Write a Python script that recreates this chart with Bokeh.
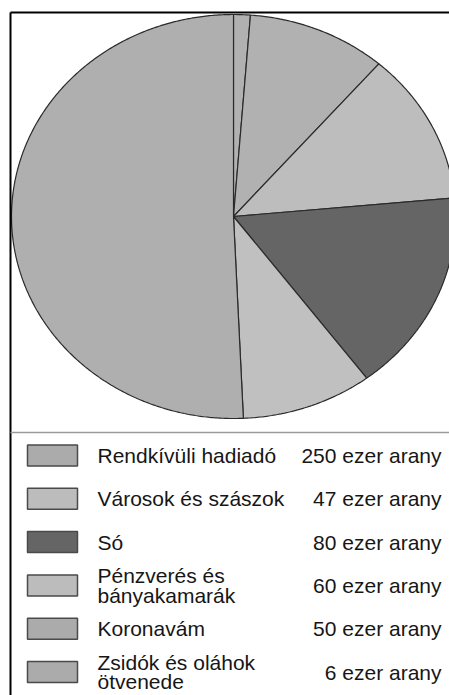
import numpy as np
from bokeh.plotting import figure
from bokeh.models import Range1d, ColumnDataSource
from bokeh.core.properties import value
from bokeh.embed import file_html
from bokeh.resources import INLINE

# ---- data (legend order) ----
categories = ["Rendkívüli hadiadó", "Városok és szászok", "Só",
              "Pénzverés és\nbányakamarák", "Koronavám", "Zsidók és oláhok\nötvenede"]
values = [250, 47, 80, 60, 50, 6]
unit = "ezer arany"
colors = ["#afafaf", "#c0c0c0", "#656565", "#bdbdbd", "#b1b1b1", "#b1b1b1"]
swatch_colors = ["#ababab", "#bcbcbc", "#656565", "#bcbcbc", "#ababab", "#ababab"]

W, H = 449, 695
p = figure(width=W, height=H, output_backend="svg", toolbar_location=None,
           x_range=Range1d(0, W), y_range=Range1d(H, 0),
           min_border=0, background_fill_color="white", border_fill_color="white")
p.axis.visible = False
p.grid.visible = False
p.outline_line_color = None

# ---- pie (elliptical), clockwise from top, in reverse legend order ----
cx, cy, rx, ry = 233, 216, 222, 202
order = list(range(len(values)))[::-1]
total = float(sum(values))
xs, ys, fills = [], [], []
cum = 0.0
for i in order:
    a0 = cum / total * 2 * np.pi
    cum += values[i]
    a1 = cum / total * 2 * np.pi
    t = np.linspace(a0, a1, max(4, int((a1 - a0) * 120)))
    px = np.concatenate([[cx], cx + rx * np.sin(t)])
    py = np.concatenate([[cy], cy - ry * np.cos(t)])
    xs.append(list(px)); ys.append(list(py)); fills.append(colors[i])
p.patches(xs=xs, ys=ys, fill_color=fills, line_color="#2a2a2a", line_width=1.2)

# ---- frame ----
p.segment(x0=[10, 10], y0=[12, 12], x1=[10, 460], y1=[700, 12],
          line_color="black", line_width=2)
p.segment(x0=[10], y0=[432], x1=[460], y1=[432], line_color="#9a9a9a", line_width=1.5)

# ---- legend ----
n = len(categories)
row_y = [455.0 + k * 43.3 for k in range(n)]
src = ColumnDataSource(dict(
    y=row_y, label=categories,
    val=[f"{v} {unit}" for v in values],
    color=swatch_colors,
))
p.rect(x=52, y="y", width=50, height=21, source=src, fill_color="color",
       line_color="#4a4a4a", line_width=1.5)
p.text(x=97, y="y", text="label", source=src, text_font=value("Liberation Sans"),
       text_font_size="21px", text_baseline="middle", text_align="left",
       text_color="#161616", text_line_height=0.84)
p.text(x=441, y="y", text="val", source=src, text_font=value("Liberation Sans"),
       text_font_size="21px", text_baseline="middle", text_align="right",
       text_color="#161616")

open("out.html", "w").write(file_html(p, INLINE))
